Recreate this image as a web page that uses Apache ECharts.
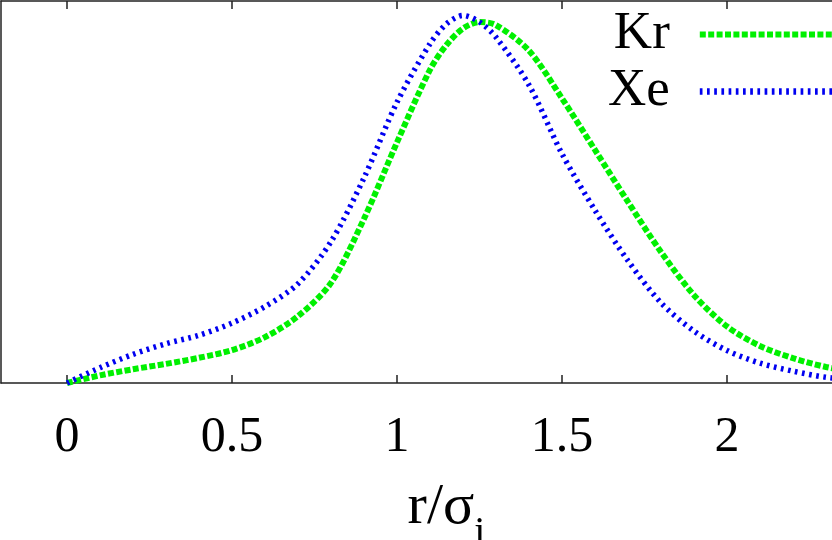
<!DOCTYPE html>
<html>
<head>
<meta charset="utf-8">
<script src="https://cdn.jsdelivr.net/npm/echarts@6/dist/echarts.min.js"></script>
<style>
  html, body { margin: 0; padding: 0; background: #fff; }
  #chart { width: 832px; height: 540px; }
</style>
</head>
<body>
<div id="chart"></div>
<script>
// r/sigma_i grid
const rVals = [0, 0.1, 0.2, 0.3, 0.4, 0.5, 0.6, 0.7, 0.8, 0.9, 1.0, 1.1, 1.15, 1.2, 1.25, 1.3, 1.4, 1.5, 1.6, 1.7, 1.8, 1.9, 2.0, 2.1, 2.2, 2.3, 2.4]
// Kr distribution
const krVals = [0, 0.02, 0.036, 0.05, 0.066, 0.086, 0.12, 0.175, 0.262, 0.43, 0.63, 0.82, 0.885, 0.928, 0.945, 0.937, 0.87, 0.745, 0.61, 0.474, 0.343, 0.23, 0.148, 0.097, 0.065, 0.042, 0.027]
// Xe distribution
const xeVals = [0, 0.04, 0.075, 0.103, 0.125, 0.157, 0.2, 0.26, 0.37, 0.537, 0.735, 0.888, 0.94, 0.962, 0.945, 0.905, 0.78, 0.6, 0.452, 0.32, 0.21, 0.136, 0.085, 0.052, 0.031, 0.015, 0.008]
const xTicks = [0, 0.5, 1, 1.5, 2]
const seriesNames = ['Kr', 'Xe']

const font = 'Liberation Serif, Times New Roman, serif'
const krColor = '#00f000'
const xeColor = '#0000f0'
const krDash = [6, 2.4]
const xeDash = [2.7, 4.5]

function pairs (xs, ys) {
  return xs.map((x, i) => [x, ys[i]])
}

const axisColor = '#222'

const chart = echarts.init(document.getElementById('chart'))
const option = {
  backgroundColor: '#fff',
  animation: false,
  grid: {
    left: 1,
    top: 1,
    width: 891,
    height: 382,
    outerBoundsMode: 'none',
    containLabel: false
  },
  legend: {
    orient: 'vertical',
    align: 'right',
    left: 603,
    top: 3,
    itemWidth: 140,
    itemHeight: 12,
    itemGap: 4,
    textStyle: {
      fontFamily: font,
      fontSize: 53,
      lineHeight: 50,
      color: '#000',
      padding: [0, 25, 0, 0]
    },
    data: [{
      name: seriesNames[0],
      itemStyle: { opacity: 0 },
      lineStyle: { color: krColor, width: 6, type: krDash, cap: 'butt' }
    }, {
      name: seriesNames[1],
      itemStyle: { opacity: 0 },
      lineStyle: { color: xeColor, width: 6.5, type: xeDash, cap: 'butt' }
    }]
  },
  xAxis: [{
    type: 'value',
    min: -0.2,
    max: 2.5,
    position: 'bottom',
    axisLine: { show: true, onZero: false, lineStyle: { color: axisColor, width: 1.5 } },
    axisTick: {
      show: true,
      inside: true,
      length: 8,
      customValues: xTicks,
      lineStyle: { color: axisColor, width: 1.5 }
    },
    axisLabel: {
      show: true,
      customValues: xTicks,
      margin: 30,
      fontFamily: font,
      fontSize: 50,
      color: '#000'
    },
    splitLine: { show: false },
    name: '{a|r/σ}{b|i}',
    nameLocation: 'middle',
    nameGap: 96,
    nameTextStyle: {
      rich: {
        a: { fontFamily: font, fontSize: 58, color: '#000', padding: [0, 0, 16, 0] },
        b: { fontFamily: font, fontSize: 40, color: '#000', verticalAlign: 'bottom' }
      }
    }
  }, {
    type: 'value',
    min: -0.2,
    max: 2.5,
    position: 'top',
    axisLine: { show: true, onZero: false, lineStyle: { color: axisColor, width: 1.5 } },
    axisTick: {
      show: true,
      inside: true,
      length: 8,
      customValues: xTicks,
      lineStyle: { color: axisColor, width: 1.5 }
    },
    axisLabel: { show: false },
    splitLine: { show: false }
  }],
  yAxis: {
    type: 'value',
    min: 0,
    max: 1,
    axisLine: { show: true, onZero: false, lineStyle: { color: axisColor, width: 1.5 } },
    axisTick: { show: false },
    axisLabel: { show: false },
    splitLine: { show: false }
  },
  series: [{
    name: seriesNames[0],
    type: 'line',
    smooth: 0.3,
    symbol: 'none',
    lineStyle: { color: krColor, width: 6, type: krDash, cap: 'butt' },
    itemStyle: { color: krColor },
    data: pairs(rVals, krVals)
  }, {
    name: seriesNames[1],
    type: 'line',
    smooth: 0.3,
    symbol: 'none',
    lineStyle: { color: xeColor, width: 5.5, type: xeDash, cap: 'butt' },
    itemStyle: { color: xeColor },
    data: pairs(rVals, xeVals)
  }]
}
chart.setOption(option, true)
</script>
</body>
</html>
